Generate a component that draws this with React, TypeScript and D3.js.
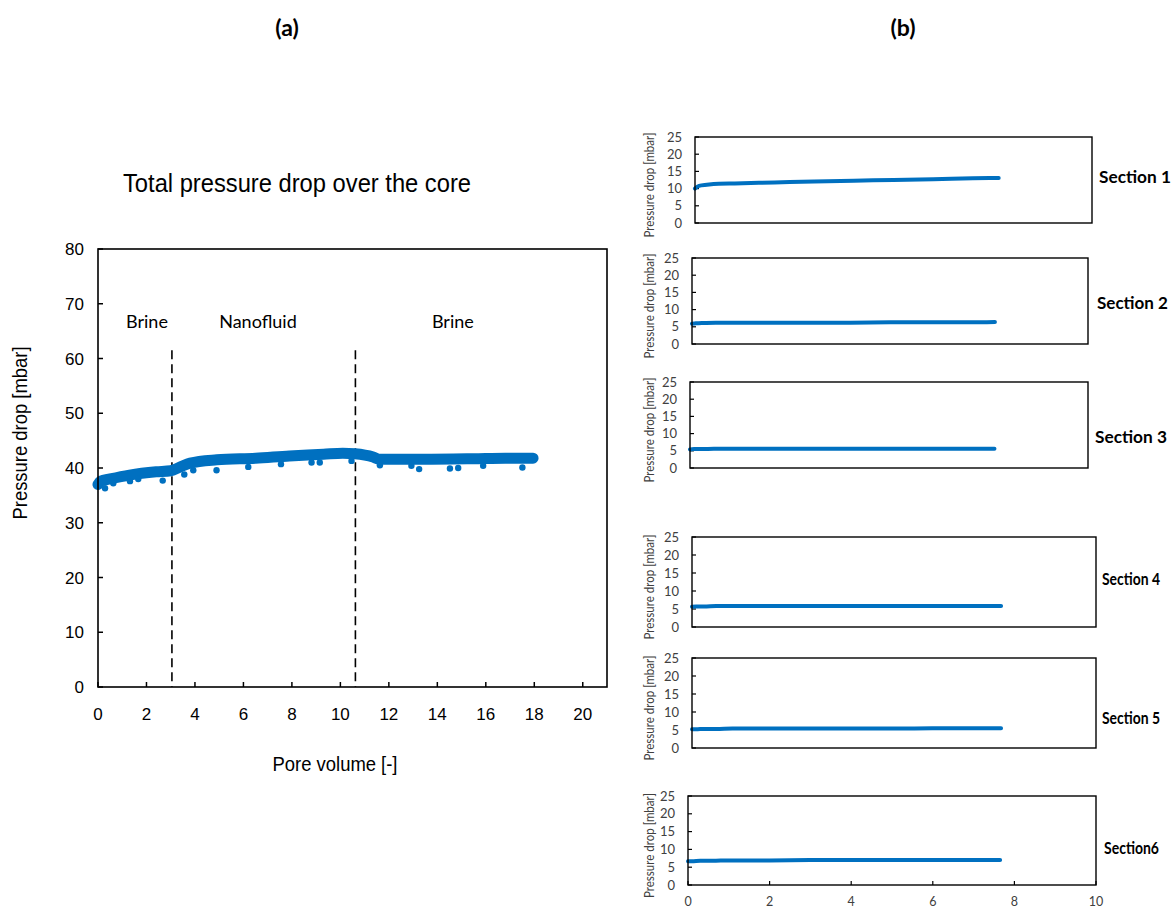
import React from 'react';
import * as d3 from 'd3';

// panel (a): total pressure drop
const pvTotal = [0, 0.1, 0.5, 1.3, 2.4, 3.0, 3.4, 3.8, 4.9, 6.5, 7.9, 9.3, 10.1, 10.6, 11.35, 11.6, 13.4, 15.5, 16.8, 17.95];
const dpTotal = [37.0, 37.6, 38.0, 38.7, 39.3, 39.5, 40.2, 40.9, 41.5, 41.8, 42.2, 42.5, 42.7, 42.6, 42.0, 41.6, 41.6, 41.7, 41.8, 41.8];

// scattered low points under the band
const outlierPv = [0.29, 0.63, 1.32, 1.66, 2.67, 3.56, 3.93, 4.89, 6.2, 7.55, 8.81, 9.15, 10.46, 11.63, 12.93, 13.25, 14.52, 14.86, 15.89, 17.51];
const outlierDp = [36.3, 37.2, 37.6, 38.0, 37.7, 38.8, 39.6, 39.6, 40.2, 40.7, 41.0, 41.0, 41.3, 40.5, 40.4, 39.8, 39.9, 40.0, 40.4, 40.1];

const phaseBounds = [3.05, 10.62];
const phaseNames = ['Brine', 'Nanofluid', 'Brine'];

// panel (b): section pressure drops
const sectionNames = ['Section 1', 'Section 2', 'Section 3', 'Section 4', 'Section 5', 'Section6'];
const secPv = [0, 0.1, 0.3, 0.6, 1, 2, 3, 4, 5, 6, 7, 7.65];
const sec1 = [10.0, 10.8, 11.1, 11.4, 11.5, 11.8, 12.1, 12.3, 12.5, 12.7, 13.0, 13.1];
const sec2 = [5.9, 6.0, 6.1, 6.2, 6.2, 6.2, 6.2, 6.2, 6.3, 6.3, 6.3, 6.4];
const sec3 = [5.4, 5.5, 5.5, 5.6, 5.6, 5.6, 5.6, 5.6, 5.6, 5.6, 5.6, 5.6];
const sec4 = [5.6, 5.7, 5.7, 5.8, 5.8, 5.8, 5.8, 5.8, 5.8, 5.8, 5.8, 5.8];
const sec5 = [5.2, 5.2, 5.3, 5.3, 5.4, 5.4, 5.4, 5.4, 5.4, 5.5, 5.5, 5.5];
const sec6 = [6.7, 6.7, 6.8, 6.8, 6.9, 6.9, 7.0, 7.0, 7.0, 7.0, 7.0, 7.0];
const sectionValues = [sec1, sec2, sec3, sec4, sec5, sec6];

const BLUE = '#0070C0';
const SANS = '"Liberation Sans", Arial, sans-serif';
const NARROW = '"Liberation Sans Narrow", "Liberation Sans", Arial, sans-serif';
const CAL = 'Lato, "Open Sans", sans-serif';

// frames of the six small plots + label anchors
const frames = [
  { x0: 695, x1: 1092, y0: 137, y1: 223, lx: 1099, ly: 177, lw: 72 },
  { x0: 692, x1: 1088, y0: 258, y1: 344, lx: 1097, ly: 303, lw: 71 },
  { x0: 690, x1: 1088, y0: 382, y1: 468, lx: 1095, ly: 437, lw: 72 },
  { x0: 692, x1: 1096, y0: 537, y1: 627, lx: 1102, ly: 579, lw: 58 },
  { x0: 692, x1: 1096, y0: 658, y1: 748, lx: 1102, ly: 718, lw: 58 },
  { x0: 688, x1: 1096, y0: 796, y1: 885, lx: 1104, ly: 848, lw: 55 },
];

function PanelA() {
  const x = d3.scaleLinear().domain([0, 21]).range([98, 607]);
  const y = d3.scaleLinear().domain([0, 80]).range([687, 249]);
  const line = d3.line<number>().x((d, i) => x(pvTotal[i])).y((d) => y(d)).curve(d3.curveMonotoneX);
  const labelPv = [2.02, 6.6, 14.64];

  return (
    <g>
      <text x={297} y={192} fontFamily={SANS} fontSize={26} textAnchor="middle" textLength={348} lengthAdjust="spacingAndGlyphs">
        Total pressure drop over the core
      </text>
      {y.ticks(8).map((t) => (
        <g key={'y' + t}>
          <line x1={x(0)} x2={x(0) + 5} y1={y(t)} y2={y(t)} stroke="#000" strokeWidth={1.5} />
          <text x={84} y={y(t) + 6} fontFamily={NARROW} fontSize={17} textAnchor="end">{t}</text>
        </g>
      ))}
      {x.ticks(10).map((t) => (
        <g key={'x' + t}>
          <line x1={x(t)} x2={x(t)} y1={y(0)} y2={y(0) - 5} stroke="#000" strokeWidth={1.5} />
          <text x={x(t)} y={720} fontFamily={NARROW} fontSize={17} textAnchor="middle">{t}</text>
        </g>
      ))}
      {phaseBounds.map((b) => (
        <line key={b} x1={x(b)} x2={x(b)} y1={y(61.5)} y2={y(0)} stroke="#000" strokeWidth={1.6} strokeDasharray="9,5" />
      ))}
      {phaseNames.map((n, i) => (
        <text key={i} x={x(labelPv[i])} y={y(66.7) + 6} fontFamily={CAL} fontSize={18} textAnchor="middle">{n}</text>
      ))}
      <path d={line(dpTotal) || ''} fill="none" stroke={BLUE} strokeWidth={11} strokeLinecap="round" strokeLinejoin="round" />
      {outlierPv.map((p, i) => (
        <circle key={i} cx={x(p)} cy={y(outlierDp[i])} r={3.2} fill={BLUE} />
      ))}
      <rect x={98} y={249} width={509} height={438} fill="none" stroke="#000" strokeWidth={1.6} />
      <text x={335} y={771} fontFamily={SANS} fontSize={21} textAnchor="middle" textLength={125} lengthAdjust="spacingAndGlyphs">
        Pore volume [-]
      </text>
      <text transform="translate(27,433) rotate(-90)" fontFamily={SANS} fontSize={20} textAnchor="middle" textLength={173} lengthAdjust="spacingAndGlyphs">
        Pressure drop [mbar]
      </text>
    </g>
  );
}

function Section({ idx }: { idx: number }) {
  const f = frames[idx];
  const x = d3.scaleLinear().domain([0, 10]).range([f.x0, f.x1]);
  const y = d3.scaleLinear().domain([0, 25]).range([f.y1, f.y0]);
  const vals = sectionValues[idx];
  const line = d3.line<number>().x((d, i) => x(secPv[i])).y((d) => y(d)).curve(d3.curveMonotoneX);
  const last = idx === 5;
  return (
    <g>
      {y.ticks(5).map((t) => (
        <g key={'y' + t}>
          <line x1={f.x0} x2={f.x0 + 4} y1={y(t)} y2={y(t)} stroke="#000" strokeWidth={1.2} />
          <text x={f.x0 - 13} y={y(t) + 4.5} fontFamily={CAL} fontSize={13} fill="#404040" textAnchor="end">{t}</text>
        </g>
      ))}
      {last && x.ticks(5).map((t) => (
        <g key={'x' + t}>
          <line x1={x(t)} x2={x(t)} y1={f.y1} y2={f.y1 - 4} stroke="#000" strokeWidth={1.2} />
          <text x={x(t)} y={906} fontFamily={CAL} fontSize={12.5} fill="#404040" textAnchor="middle">{t}</text>
        </g>
      ))}
      <path d={line(vals) || ''} fill="none" stroke={BLUE} strokeWidth={4} strokeLinecap="round" />
      <rect x={f.x0} y={f.y0} width={f.x1 - f.x0} height={f.y1 - f.y0} fill="none" stroke="#000" strokeWidth={1.4} />
      <text transform={`translate(${654},${(f.y0 + f.y1) / 2 + 5}) rotate(-90)`} fontFamily={CAL} fontSize={12.5} fill="#404040" textAnchor="middle" textLength={105} lengthAdjust="spacingAndGlyphs">
        Pressure drop [mbar]
      </text>
      <text x={f.lx} y={f.ly + 6} fontFamily={CAL} fontWeight="bold" fontSize={17} textLength={f.lw} lengthAdjust="spacingAndGlyphs">
        {sectionNames[idx]}
      </text>
    </g>
  );
}

export default function App() {
  return (
    <svg width={1174} height={915} style={{ position: 'absolute', left: 0, top: 0, background: '#fff' }}>
      <text x={287} y={36} fontFamily={CAL} fontWeight="bold" fontSize={23} textAnchor="middle">(a)</text>
      <text x={903} y={36} fontFamily={CAL} fontWeight="bold" fontSize={23} textAnchor="middle">(b)</text>
      <PanelA />
      {frames.map((_, i) => (
        <Section key={i} idx={i} />
      ))}
    </svg>
  );
}
